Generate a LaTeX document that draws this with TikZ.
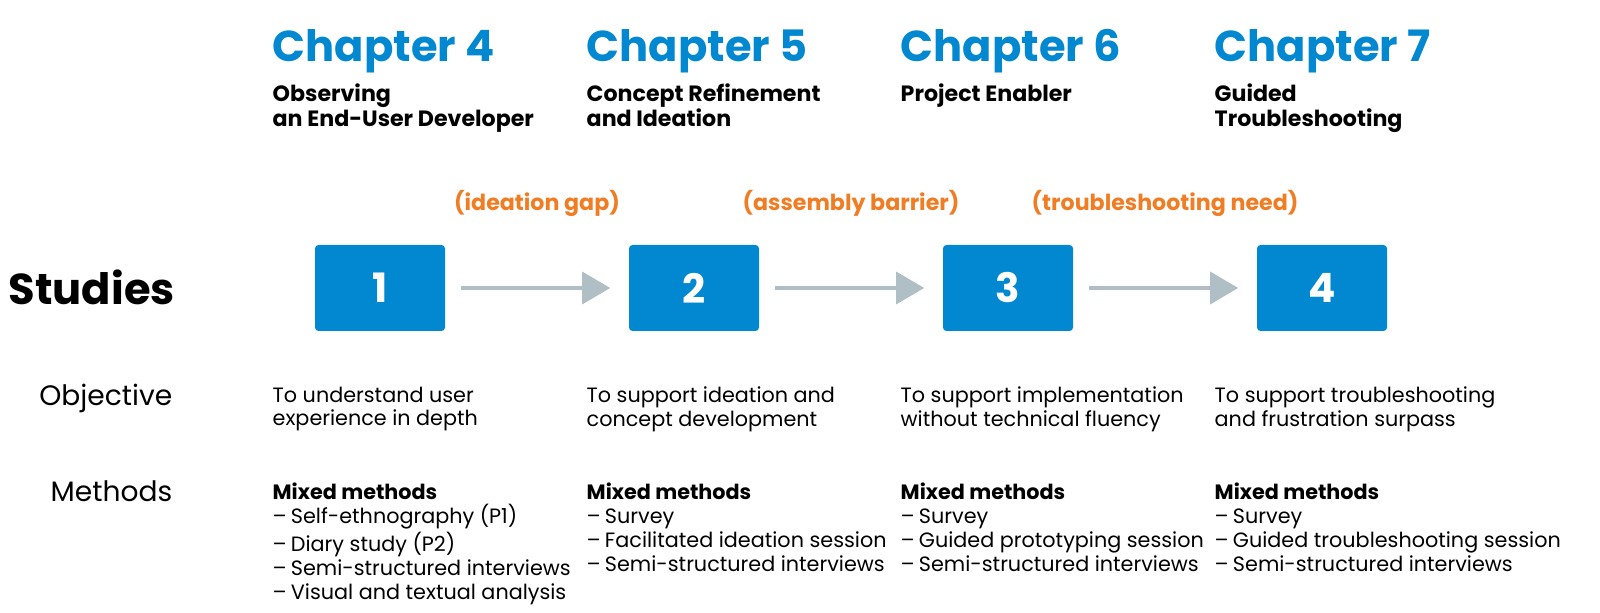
\documentclass[tikz,border=0pt]{standalone}
\usepackage{fontspec}
\setmainfont{Poppins}
\usetikzlibrary{arrows.meta, positioning}
\definecolor{chapblue}{RGB}{2,136,209}
\definecolor{gaporange}{RGB}{240,125,36}
\definecolor{arrowgray}{RGB}{176,190,197}
\newcommand{\itm}{–\kern1.2pt}

\begin{document}
\begin{tikzpicture}[
    chapter/.style={anchor=base west, inner sep=0pt, text=chapblue, font=\fontsize{12.3}{14}\selectfont\bfseries},
    subtitle/.style={anchor=north west, inner sep=0pt, align=left, font=\fontsize{6.3}{7.1}\selectfont\bfseries},
    gap/.style={anchor=base, inner sep=0pt, text=gaporange, font=\fontsize{6.3}{7.1}\selectfont\bfseries},
    study/.style={rectangle, rounded corners=1pt, fill=chapblue, minimum width=1.3cm, minimum height=0.86cm, text=white, font=\fontsize{11.5}{12}\selectfont\bfseries},
    flow/.style={draw=arrowgray, line width=1.3pt, -{Triangle[length=8pt, width=9pt]}},
    rowlabel/.style={anchor=base east, inner sep=0pt, font=\fontsize{8}{9}\selectfont},
    body/.style={anchor=north west, inner sep=0pt, align=left, font=\fontsize{5.9}{6.8}\selectfont}
]
\useasboundingbox (0,0) rectangle (16,-6.13);

% Chapters
\node[chapter] (ch4) at (2.72,-0.62) {Chapter 4};
\node[chapter] (ch5) at (5.86,-0.62) {Chapter 5};
\node[chapter] (ch6) at (9.00,-0.62) {Chapter 6};
\node[chapter] (ch7) at (12.14,-0.62) {Chapter 7};

\node[subtitle] (sub4) at (2.72,-0.83) {Observing\\an End-User Developer};
\node[subtitle] (sub5) at (5.86,-0.83) {Concept Refinement\\and Ideation};
\node[subtitle] (sub6) at (9.00,-0.83) {Project Enabler};
\node[subtitle] (sub7) at (12.14,-0.83) {Guided\\Troubleshooting};

% Gaps
\node[gap] (gap1) at (5.37,-2.11) {(ideation gap)};
\node[gap] (gap2) at (8.51,-2.11) {(assembly barrier)};
\node[gap] (gap3) at (11.65,-2.11) {(troubleshooting need)};

% Studies
\node[anchor=base west, inner sep=0pt, font=\fontsize{12.3}{14}\selectfont\bfseries] (studies) at (0.08,-3.05) {Studies};
\node[study] (s1) at (3.80,-2.88) {1};
\node[study] (s2) at (6.94,-2.88) {2};
\node[study] (s3) at (10.08,-2.88) {3};
\node[study] (s4) at (13.22,-2.88) {4};

\draw[flow] (s1.east) ++(0.15,0) -- ([xshift=-0.18cm]s2.west);
\draw[flow] (s2.east) ++(0.15,0) -- ([xshift=-0.18cm]s3.west);
\draw[flow] (s3.east) ++(0.15,0) -- ([xshift=-0.18cm]s4.west);

% Objective
\node[rowlabel] (objective) at (1.73,-4.06) {Objective};
\node[body] (obj1) at (2.72,-3.86) {To understand user\\experience in depth};
\node[body] (obj2) at (5.86,-3.86) {To support ideation and\\concept development};
\node[body] (obj3) at (9.00,-3.86) {To support implementation\\without technical fluency};
\node[body] (obj4) at (12.14,-3.86) {To support troubleshooting\\and frustration surpass};

% Methods
\node[rowlabel] (methods) at (1.73,-5.02) {Methods};
\node[body] (met1) at (2.72,-4.82) {\textbf{Mixed methods}\\\itm Self-ethnography (P1)\\\itm Diary study (P2)\\\itm Semi-structured interviews\\\itm Visual and textual analysis};
\node[body] (met2) at (5.86,-4.82) {\textbf{Mixed methods}\\\itm Survey\\\itm Facilitated ideation session\\\itm Semi-structured interviews};
\node[body] (met3) at (9.00,-4.82) {\textbf{Mixed methods}\\\itm Survey\\\itm Guided prototyping session\\\itm Semi-structured interviews};
\node[body] (met4) at (12.14,-4.82) {\textbf{Mixed methods}\\\itm Survey\\\itm Guided troubleshooting session\\\itm Semi-structured interviews};

\end{tikzpicture}
\end{document}
